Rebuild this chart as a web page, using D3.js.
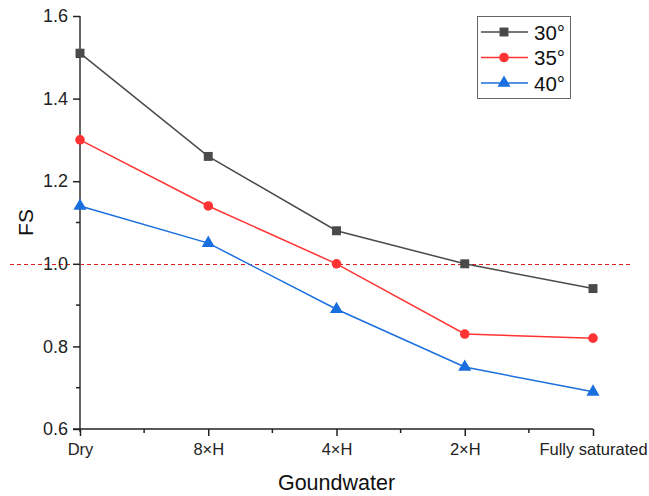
<!DOCTYPE html>
<html>
<head>
<meta charset="utf-8">
<script src="https://cdn.jsdelivr.net/npm/d3@7"></script>
<style>
  html, body { margin: 0; padding: 0; background: #fff; }
  svg { display: block; font-family: "Liberation Sans", Arial, sans-serif; }
</style>
</head>
<body>
<svg id="chart" width="649" height="496"></svg>
<script>
// Groundwater conditions along the x axis
const categories = ["Dry", "8×H", "4×H", "2×H", "Fully saturated"];
// Factor of safety for each slope angle
const fs30 = [1.51, 1.26, 1.08, 1.00, 0.94];
const fs35 = [1.30, 1.14, 1.00, 0.83, 0.82];
const fs40 = [1.14, 1.05, 0.89, 0.75, 0.69];
const seriesNames = ["30°", "35°", "40°"];
const yTicks = [0.6, 0.8, 1.0, 1.2, 1.4, 1.6];
const yMinorTicks = [0.7, 0.9, 1.1, 1.3, 1.5];
const threshold = 1.0;

const series = [
  { name: seriesNames[0], values: fs30, color: "#4a4a4a", marker: d3.symbolSquare, size: 80 },
  { name: seriesNames[1], values: fs35, color: "#ff3333", marker: d3.symbolCircle, size: 72 },
  { name: seriesNames[2], values: fs40, color: "#1a6fdf", marker: d3.symbolTriangle, size: 75 }
];

const svg = d3.select("#chart");
const plotLeft = 80, plotRight = 593, plotTop = 16, plotBottom = 429;
const fontFamily = "Liberation Sans, Arial, sans-serif";

const x = d3.scalePoint().domain(categories).range([plotLeft, plotRight]);
const y = d3.scaleLinear().domain([0.6, 1.6]).range([plotBottom, plotTop]);

// dashed reference line at FS = 1, snapped to a pixel row
const yRef = Math.round(y(threshold)) + 0.5;
svg.append("line")
  .attr("x1", 10).attr("x2", 632)
  .attr("y1", yRef).attr("y2", yRef)
  .attr("stroke", "#e02020").attr("stroke-width", 1)
  .attr("stroke-dasharray", "4,3");

// y axis
const yAxis = svg.append("g").attr("transform", `translate(${plotLeft},0)`)
  .call(d3.axisLeft(y).tickValues(yTicks).tickFormat(d3.format(".1f")).tickSize(7).tickPadding(5));
yAxis.select(".domain").attr("stroke", "#666").attr("stroke-width", 2)
  .attr("d", `M0,${plotTop}V${plotBottom + 3}`);
yAxis.selectAll(".tick line").attr("stroke", "#222").attr("stroke-width", 1.5);
yAxis.selectAll(".tick text").attr("font-size", 18).attr("fill", "#222")
  .attr("font-family", fontFamily);
yAxis.selectAll(".minor").data(yMinorTicks).enter().append("line")
  .attr("x1", -4).attr("x2", 0)
  .attr("y1", d => y(d)).attr("y2", d => y(d))
  .attr("stroke", "#222").attr("stroke-width", 1.5);

// x axis
const xAxis = svg.append("g").attr("transform", `translate(0,${plotBottom})`)
  .call(d3.axisBottom(x).tickSize(7).tickPadding(7));
xAxis.select(".domain").attr("stroke", "#222").attr("stroke-width", 1.5)
  .attr("d", `M${plotLeft - 7},0H${plotRight}`);
xAxis.selectAll(".tick line").attr("stroke", "#222").attr("stroke-width", 1.5);
xAxis.selectAll(".tick text").attr("font-size", 16.5).attr("fill", "#222")
  .attr("font-family", fontFamily);
const mids = categories.slice(1).map((c, i) => (x(categories[i]) + x(c)) / 2);
xAxis.selectAll(".minor").data(mids).enter().append("line")
  .attr("x1", d => d).attr("x2", d => d)
  .attr("y1", 0).attr("y2", 4)
  .attr("stroke", "#222").attr("stroke-width", 1.5);

// axis titles
svg.append("text").attr("x", (plotLeft + plotRight) / 2).attr("y", 490)
  .attr("text-anchor", "middle").attr("font-size", 21.5).attr("fill", "#111")
  .attr("font-family", fontFamily)
  .text("Goundwater");
svg.append("text").attr("transform", `translate(33,${(plotTop + plotBottom) / 2}) rotate(-90)`)
  .attr("text-anchor", "middle").attr("font-size", 21).attr("fill", "#111")
  .attr("font-family", fontFamily)
  .text("FS");

// series lines and markers
const line = d3.line().x((d, i) => x(categories[i])).y(d => y(d));
series.forEach(s => {
  svg.append("path").datum(s.values)
    .attr("d", line).attr("fill", "none")
    .attr("stroke", s.color).attr("stroke-width", 1.5);
  svg.selectAll(null).data(s.values).enter().append("path")
    .attr("transform", (d, i) => `translate(${x(categories[i])},${y(d)})`)
    .attr("d", d3.symbol().type(s.marker).size(s.size))
    .attr("fill", s.color);
});

// legend
const lg = svg.append("g");
lg.append("rect").attr("x", 477.5).attr("y", 16.5).attr("width", 93).attr("height", 82)
  .attr("fill", "#fff").attr("stroke", "#666").attr("stroke-width", 1);
series.forEach((s, i) => {
  const ly = 32 + i * 25.5;
  lg.append("line").attr("x1", 481).attr("x2", 528).attr("y1", ly).attr("y2", ly)
    .attr("stroke", s.color).attr("stroke-width", 1.5);
  lg.append("path").attr("transform", `translate(504,${ly})`)
    .attr("d", d3.symbol().type(s.marker).size(s.size)).attr("fill", s.color);
  lg.append("text").attr("x", 534).attr("y", ly + 7.5).attr("font-size", 20.5)
    .attr("fill", "#111").attr("font-family", fontFamily).text(s.name);
});
</script>
</body>
</html>
